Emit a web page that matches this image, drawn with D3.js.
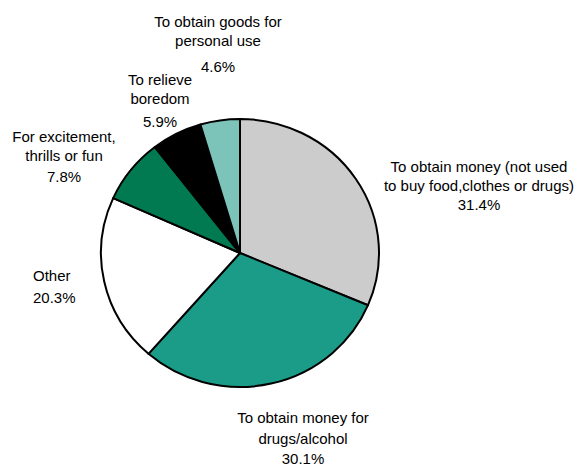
<!DOCTYPE html>
<html>
<head>
<meta charset="utf-8">
<script src="https://cdn.jsdelivr.net/npm/d3@7/dist/d3.min.js"></script>
<style>
  body { margin: 0; background: #fff; }
  text { font-family: "Liberation Sans", Arial, sans-serif; font-size: 15px; fill: #000; }
</style>
</head>
<body>
<div id="chart"></div>
<script>
// slices, clockwise from 12 o'clock
var categories = [
  "To obtain money (not used to buy food, clothes or drugs)",
  "To obtain money for drugs/alcohol",
  "Other",
  "For excitement, thrills or fun",
  "To relieve boredom",
  "To obtain goods for personal use"
]
var values = [31.4, 30.1, 20.3, 7.8, 5.9, 4.6]
var valueLabels = ["31.4%", "30.1%", "20.3%", "7.8%", "5.9%", "4.6%"]
var labelLines = [
  ["To obtain money (not used", "to buy food,clothes or drugs)"],
  ["To obtain money for", "drugs/alcohol"],
  ["Other"],
  ["For excitement,", "thrills or fun"],
  ["To relieve", "boredom"],
  ["To obtain goods for", "personal use"]
]
var colors = ["#cccccc", "#1a9c89", "#ffffff", "#027a51", "#000000", "#7cc3b9"]

var w = 577, h = 466
var cx = 240, cy = 253
var rx = 139, ry = 134

// where each label block sits (x, first baseline, line step, gap before %, anchor)
var labelLayout = [
  { x: 479, y: 172, step: 19, pct: 19, anchor: "middle" },
  { x: 303, y: 423, step: 21, pct: 20, anchor: "middle" },
  { x: 33,  y: 281, step: 22, pct: 22, anchor: "start" },
  { x: 64,  y: 142, step: 19, pct: 21, anchor: "middle" },
  { x: 160, y: 85,  step: 19, pct: 23, anchor: "middle" },
  { x: 218, y: 27,  step: 19, pct: 26, anchor: "middle" }
]

var svg = d3.select("#chart")
  .append("svg")
  .attr("width", w)
  .attr("height", h)

var pie = d3.pie().sort(null).value(function(d){ return d })
var arc = d3.arc().innerRadius(0).outerRadius(rx)

var g = svg.append("g")
  .attr("transform", "translate(" + cx + "," + cy + ") scale(1," + (ry / rx) + ")")

g.selectAll("path")
  .data(pie(values))
  .enter()
  .append("path")
  .attr("d", arc)
  .attr("fill", function(d, i){ return colors[i] })
  .attr("stroke", "#000")
  .attr("stroke-width", 2)
  .attr("stroke-linejoin", "round")
  .attr("vector-effect", "non-scaling-stroke")

var labels = svg.selectAll("g.label")
  .data(categories)
  .enter()
  .append("g")
  .attr("class", "label")

labels.each(function(d, i){
  var L = labelLayout[i]
  var t = d3.select(this).append("text")
    .attr("text-anchor", L.anchor)
  var lines = labelLines[i]
  lines.forEach(function(line, j){
    t.append("tspan")
      .attr("x", L.x)
      .attr("y", L.y + j * L.step)
      .text(line)
  })
  t.append("tspan")
    .attr("x", L.x)
    .attr("y", L.y + (lines.length - 1) * L.step + L.pct)
    .text(valueLabels[i])
})
</script>
</body>
</html>
